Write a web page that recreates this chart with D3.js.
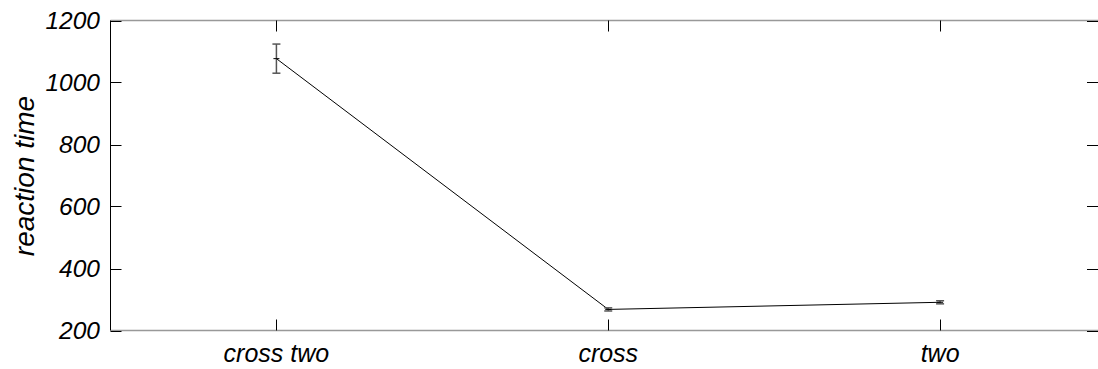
<!DOCTYPE html>
<html>
<head>
<meta charset="utf-8">
<style>
  body { margin: 0; background: #fff; }
  text { font-family: "Liberation Sans", Arial, sans-serif; font-style: italic; }
</style>
</head>
<body>
<svg width="1098" height="369"></svg>
<script src="https://d3js.org/d3.v7.min.js"></script>
<script>
var categories = ["cross two", "cross", "two"];
var means = [1077, 268, 291];
var errors = [47, 5, 5];
var yTicks = [200, 400, 600, 800, 1000, 1200];

var svg = d3.select("svg"),
    mLeft = 110.5, mTop = 20.5, mBottom = 330.5, mRight = 1106;

var x = d3.scaleLinear().domain([0.5, 3.5]).range([mLeft, mRight]);
var y = d3.scaleLinear().domain([200, 1200]).range([mBottom, mTop]);

var data = categories.map(function(c, i) { return { name: c, i: i + 1, m: means[i], e: errors[i] }; });

// frame lines
svg.append("line").attr("x1", mLeft).attr("x2", 1098).attr("y1", mTop).attr("y2", mTop)
    .attr("stroke", "#999").attr("stroke-width", 1.5);
svg.append("line").attr("x1", mLeft).attr("x2", 1098).attr("y1", mBottom).attr("y2", mBottom)
    .attr("stroke", "#999").attr("stroke-width", 1.5);
svg.append("line").attr("x1", mLeft).attr("x2", mLeft).attr("y1", mTop).attr("y2", mBottom)
    .attr("stroke", "#000");

// y ticks left and right
yTicks.forEach(function(t) {
  var py = Math.round(y(t)) + 0.5;
  svg.append("line").attr("x1", mLeft).attr("x2", mLeft + 11).attr("y1", py).attr("y2", py)
      .attr("stroke", "#000");
  svg.append("line").attr("x1", 1087).attr("x2", 1098).attr("y1", py).attr("y2", py)
      .attr("stroke", "#000");
  svg.append("text").attr("x", 100).attr("y", y(t) + 8.5)
      .attr("text-anchor", "end").attr("font-size", 24.5).text(t);
});

// x ticks top and bottom
data.forEach(function(d) {
  var px = Math.round(x(d.i)) + 0.5;
  svg.append("line").attr("x1", px).attr("x2", px).attr("y1", mTop).attr("y2", mTop + 11).attr("stroke", "#000");
  svg.append("line").attr("x1", px).attr("x2", px).attr("y1", mBottom - 11).attr("y2", mBottom).attr("stroke", "#000");
  svg.append("text").attr("x", x(d.i)).attr("y", 362)
      .attr("text-anchor", "middle").attr("font-size", 25).text(d.name);
});

// y label
svg.append("text").attr("transform", "translate(34," + 176 + ") rotate(-90)")
    .attr("text-anchor", "middle").attr("font-size", 28).text("reaction time");

// line
svg.append("path").datum(data)
    .attr("fill", "none").attr("stroke", "#000").attr("stroke-width", 1)
    .attr("d", d3.line().x(function(d) { return x(d.i); }).y(function(d) { return y(d.m); }));

// error bars
var eb = svg.append("g").attr("stroke", "#555").attr("stroke-width", 1.5);
data.forEach(function(d) {
  var px = x(d.i);
  eb.append("line").attr("x1", px).attr("x2", px).attr("y1", y(d.m + d.e)).attr("y2", y(d.m - d.e));
  eb.append("line").attr("x1", px - 4).attr("x2", px + 4).attr("y1", y(d.m + d.e)).attr("y2", y(d.m + d.e));
  eb.append("line").attr("x1", px - 4).attr("x2", px + 4).attr("y1", y(d.m - d.e)).attr("y2", y(d.m - d.e));
  // plus marker
  svg.append("line").attr("x1", px - 3).attr("x2", px + 3).attr("y1", y(d.m)).attr("y2", y(d.m)).attr("stroke", "#000");
});
</script>
</body>
</html>
